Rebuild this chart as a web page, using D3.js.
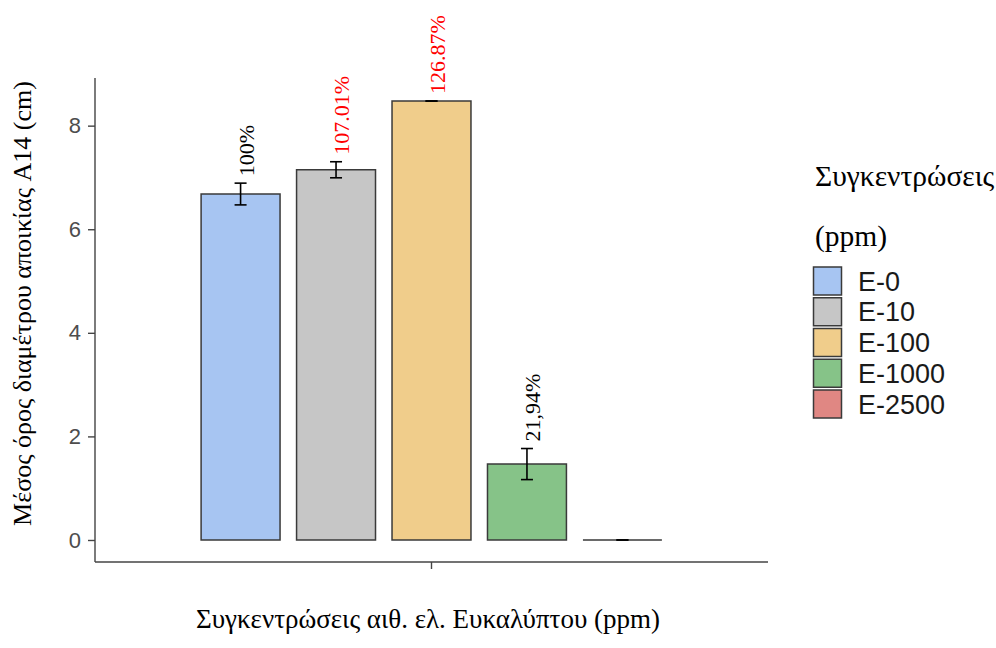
<!DOCTYPE html>
<html>
<head>
<meta charset="utf-8">
<script src="https://cdn.jsdelivr.net/npm/d3@7"></script>
<style>
  html, body { margin: 0; padding: 0; background: #fff; }
  svg { display: block; }
</style>
</head>
<body>
<svg id="chart" width="996" height="648"></svg>
<script>
// Treatment groups (essential oil concentration)
const groups = ["E-0", "E-10", "E-100", "E-1000", "E-2500"];
// Mean colony diameter (cm) and standard error
const means = [6.68, 7.148, 8.475, 1.466, 0];
const errors = [0.21, 0.155, 0, 0.30, 0];
// Percentage labels relative to the control
const pctLabels = ["100%", "107.01%", "126.87%", "21,94%", ""];
const pctColors = ["#000000", "#ff0000", "#ff0000", "#000000", "#000000"];
const fills = ["#a7c5f2", "#c6c6c6", "#f0cd8b", "#86c388", "#e08783"];
const yTicks = [0, 2, 4, 6, 8];

const svg = d3.select("#chart");
const serif = "'Liberation Serif', 'Times New Roman', serif";
const sans = "'Liberation Sans', Arial, sans-serif";

const plot = { left: 95, right: 768, top: 78, bottom: 562 };

const y = d3.scaleLinear().domain([-0.425, 8.92]).range([plot.bottom, plot.top]);

// single x category, bars dodged inside it
const xOuter = d3.scaleBand().domain(["all"]).range([plot.left, plot.right])
  .paddingInner(0).paddingOuter(0.205);
const xInner = d3.scaleBand().domain(groups)
  .range([xOuter("all"), xOuter("all") + xOuter.bandwidth()])
  .paddingInner(0.173).paddingOuter(0.0865);

const data = groups.map((g, i) => ({
  g, mean: means[i], se: errors[i], label: pctLabels[i], lc: pctColors[i], fill: fills[i]
}));

// bars as closed paths so a zero-height bar still shows its outline
svg.append("g").selectAll("path").data(data).join("path")
  .attr("d", d => {
    const x0 = xInner(d.g), x1 = x0 + xInner.bandwidth();
    const y0 = y(0), y1 = y(Math.max(d.mean, 0));
    return `M${x0},${y0}V${y1}H${x1}V${y0}Z`;
  })
  .attr("fill", d => d.fill)
  .attr("stroke", "#3a3a3a")
  .attr("stroke-width", 1.5);

// error bars
const eb = svg.append("g").attr("stroke", "#000").attr("stroke-width", 1.6).attr("fill", "none");
data.forEach(d => {
  const cx = xInner(d.g) + xInner.bandwidth() / 2;
  const capW = 6;
  const y1 = y(d.mean + d.se), y2 = y(d.mean - d.se);
  eb.append("line").attr("x1", cx).attr("x2", cx).attr("y1", y1).attr("y2", y2);
  eb.append("line").attr("x1", cx - capW).attr("x2", cx + capW).attr("y1", y1).attr("y2", y1);
  eb.append("line").attr("x1", cx - capW).attr("x2", cx + capW).attr("y1", y2).attr("y2", y2);
});

// percentage labels, vertical
svg.append("g").selectAll("text").data(data.filter(d => d.label)).join("text")
  .attr("transform", d => {
    const cx = xInner(d.g) + xInner.bandwidth() / 2 + 13;
    const ty = y(d.mean + d.se) - 7;
    return `translate(${cx},${ty}) rotate(-90)`;
  })
  .attr("text-anchor", "start")
  .attr("font-family", serif)
  .attr("font-size", 22)
  .attr("fill", d => d.lc)
  .text(d => d.label);

// y axis
const yAxis = svg.append("g").attr("transform", `translate(${plot.left},0)`)
  .call(d3.axisLeft(y).tickValues(yTicks).tickSize(7).tickPadding(7).tickFormat(d3.format("d")));
yAxis.select(".domain").attr("stroke", "#444").attr("stroke-width", 1.4)
  .attr("d", `M0,${plot.top}V${plot.bottom}`);
yAxis.selectAll(".tick line").attr("stroke", "#444").attr("stroke-width", 1.4);
yAxis.selectAll(".tick text")
  .attr("font-family", sans)
  .attr("font-size", 22).attr("fill", "#4d4d4d");

// x axis
const xAxis = svg.append("g").attr("transform", `translate(0,${plot.bottom})`)
  .call(d3.axisBottom(xOuter).tickSize(7).tickFormat(""));
xAxis.select(".domain").attr("stroke", "#444").attr("stroke-width", 1.4)
  .attr("d", `M${plot.left},0H${plot.right}`);
xAxis.selectAll(".tick line").attr("stroke", "#444").attr("stroke-width", 1.4);

// axis titles
svg.append("text")
  .attr("x", 428).attr("y", 628)
  .attr("text-anchor", "middle")
  .attr("font-family", serif)
  .attr("font-size", 27)
  .attr("fill", "#000")
  .text("Συγκεντρώσεις αιθ. ελ. Ευκαλύπτου (ppm)");

svg.append("text")
  .attr("transform", "translate(31,303.5) rotate(-90)")
  .attr("text-anchor", "middle")
  .attr("font-family", serif)
  .attr("font-size", 26)
  .attr("fill", "#000")
  .text("Μέσος όρος διαμέτρου αποικίας A14 (cm)");

// legend
const leg = svg.append("g").attr("transform", "translate(813,0)");
leg.append("text").attr("x", 2).attr("y", 186)
  .attr("font-family", serif)
  .attr("font-size", 29.5).attr("fill", "#000").text("Συγκεντρώσεις");
leg.append("text").attr("x", 2).attr("y", 246)
  .attr("font-family", serif)
  .attr("font-size", 29.5).attr("fill", "#000").text("(ppm)");

const rowY = d3.scaleBand().domain(groups).range([266, 266 + 30.75 * groups.length]);
const rows = leg.selectAll("g.row").data(data).join("g").attr("class", "row")
  .attr("transform", d => `translate(0,${rowY(d.g)})`);
rows.append("rect").attr("x", 0.5).attr("y", 1).attr("width", 28).attr("height", 28)
  .attr("fill", d => d.fill).attr("stroke", "#3a3a3a").attr("stroke-width", 1.5);
rows.append("text").attr("x", 45).attr("y", 15).attr("dy", "0.36em")
  .attr("font-family", sans)
  .attr("font-size", 27).attr("fill", "#1a1a1a").text(d => d.g);
</script>
</body>
</html>
